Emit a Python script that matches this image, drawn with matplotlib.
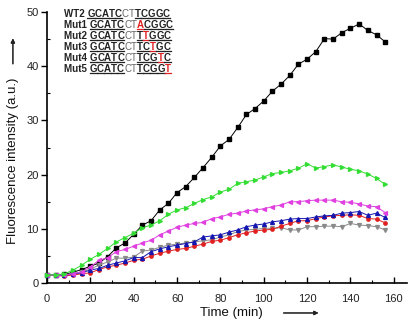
import matplotlib.pyplot as plt
from matplotlib.lines import Line2D
from matplotlib.transforms import IdentityTransform
from matplotlib.ticker import MultipleLocator

plt.rcParams['font.family'] = ['Liberation Sans', 'DejaVu Sans']

time = list(range(0, 160, 4))

wt2 = [1.5, 1.5, 1.6, 2.0, 2.5, 3.1, 3.7, 4.9, 6.5, 7.4, 9.0, 10.7, 11.5, 13.5,
       14.7, 16.7, 17.8, 19.5, 21.3, 23.2, 25.3, 26.5, 28.7, 31.1, 32.2, 33.6,
       35.4, 36.7, 38.3, 40.4, 41.3, 42.7, 45.1, 45.0, 46.2, 47.0, 47.8, 46.6,
       45.8, 44.5]
mut1 = [1.4, 1.4, 1.3, 1.5, 1.7, 1.9, 2.5, 3.0, 3.3, 3.7, 4.2, 4.4, 5.0, 5.5,
        5.9, 6.2, 6.4, 6.8, 7.2, 7.7, 7.9, 8.4, 8.9, 9.3, 9.6, 9.8, 9.9, 10.5,
        11.0, 11.5, 11.5, 11.9, 12.2, 12.4, 12.5, 12.6, 12.5, 11.9, 11.8, 11.1]
mut2 = [1.5, 1.4, 1.4, 1.7, 1.9, 2.4, 2.7, 3.3, 3.7, 4.1, 4.7, 4.7, 5.8, 6.3,
        6.7, 7.0, 7.3, 7.6, 8.5, 8.7, 8.9, 9.4, 9.8, 10.4, 10.7, 10.9, 11.3,
        11.5, 11.8, 11.9, 11.9, 12.2, 12.4, 12.5, 12.9, 13.0, 13.2, 12.5, 12.9,
        12.1]
mut3 = [1.5, 1.5, 1.7, 2.4, 3.3, 4.4, 5.3, 6.4, 7.6, 8.4, 9.2, 10.2, 10.7,
        11.5, 12.7, 13.5, 13.9, 14.7, 15.4, 15.9, 16.8, 17.3, 18.4, 18.7, 19.0,
        19.6, 20.2, 20.4, 20.7, 21.2, 22.0, 21.2, 21.5, 21.8, 21.4, 21.0, 20.7,
        20.1, 19.3, 18.2]
mut4 = [1.5, 1.4, 1.5, 1.7, 2.1, 3.0, 4.2, 4.7, 5.8, 6.2, 6.8, 7.4, 7.9, 8.9,
        9.6, 10.3, 10.7, 11.0, 11.2, 11.9, 12.2, 12.7, 12.9, 13.3, 13.5, 13.7,
        14.1, 14.4, 15.0, 15.0, 15.2, 15.3, 15.3, 15.3, 15.0, 14.9, 14.6, 14.2,
        14.1, 13.0]
mut5 = [1.5, 1.5, 1.5, 1.7, 2.0, 2.6, 3.3, 3.9, 4.6, 4.6, 4.8, 5.9, 6.1, 6.6,
        7.0, 7.2, 7.4, 7.6, 7.8, 8.0, 8.5, 8.9, 9.5, 9.8, 9.9, 10.1, 10.1, 10.2,
        9.8, 9.8, 10.4, 10.4, 10.5, 10.5, 10.4, 11.0, 10.7, 10.6, 10.4, 9.8]

# name, sequence, index of the mutated base (None for wild type)
seq_names = ['WT2', 'Mut1', 'Mut2', 'Mut3', 'Mut4', 'Mut5']
seq_text = ['GCATCCTTCGGC', 'GCATCCTACGGC', 'GCATCCTTTGGC',
            'GCATCCTTCTGC', 'GCATCCTTCGTC', 'GCATCCTTCGGT']
seq_mut = [None, 7, 8, 9, 10, 11]

fig = plt.figure(figsize=(4.16, 3.25), dpi=100)
ax = fig.add_axes([0.113, 0.129, 0.865, 0.834])

series = [
    (wt2, 'black', 's', 2.4),
    (mut5, '#8a8a8a', 'v', 2.8),
    (mut1, '#e02020', 'o', 2.4),
    (mut2, '#1515b0', '^', 2.8),
    (mut4, '#e040e0', '<', 2.8),
    (mut3, '#33dd33', '>', 2.8),
]
for vals, col, mk, ms in series:
    ax.plot(time, vals, color=col, marker=mk, markersize=ms, lw=0.7,
            clip_on=False, zorder=3)

ax.set_xlim(0, 166)
ax.set_ylim(0, 50)
ax.xaxis.set_minor_locator(MultipleLocator(10))
ax.yaxis.set_major_locator(MultipleLocator(10))
ax.yaxis.set_minor_locator(MultipleLocator(5))
ax.set_xticks(range(0, 161, 20))
ax.spines['top'].set_visible(False)
ax.spines['right'].set_visible(False)
for s in ('left', 'bottom'):
    ax.spines[s].set_linewidth(1.2)
ax.tick_params(axis='x', which='major', direction='in', length=4, width=1,
               labelsize=8, labelcolor='#222222', pad=8)
ax.tick_params(axis='x', which='minor', direction='in', length=2.5, width=0.8)
ax.tick_params(axis='y', which='major', direction='out', length=4, width=1,
               labelsize=8, labelcolor='#222222', pad=2)
ax.tick_params(axis='y', which='minor', direction='in', length=2.5, width=0.8)

fig.text(0.555, 0.038, 'Time (min)', ha='center', va='center', fontsize=9.5,
         color='#111111')
fig.text(0.031, 0.505, 'Fluorescence intensity (a.u.)', rotation=90,
         ha='center', va='center', fontsize=9.5, color='#111111')
arrow = dict(arrowstyle='-|>', lw=0.8, color='#222222', mutation_scale=6)
fig.add_artist(plt.annotate('', xy=(0.772, 0.037), xytext=(0.675, 0.037),
                            xycoords='figure fraction', arrowprops=arrow))
fig.add_artist(plt.annotate('', xy=(0.031, 0.89), xytext=(0.031, 0.795),
                            xycoords='figure fraction', arrowprops=arrow))

# sequence block, one character at a time so bases can be coloured
rows = []
for i, (name, seq, mut) in enumerate(zip(seq_names, seq_text, seq_mut)):
    y = 0.975 - i * 0.0405
    prev = ax.text(0.047, y, name + ' ', transform=ax.transAxes, fontsize=7,
                   fontweight='bold', color='#222222', va='bottom', ha='left')
    chars = []
    for j, ch in enumerate(seq):
        middle = j in (5, 6)
        col = '#e02020' if j == mut else ('#666666' if middle else '#222222')
        t = ax.annotate(ch, xy=(1, 0), xycoords=prev, fontsize=7,
                        fontweight='normal' if middle else 'bold',
                        color=col, va='bottom', ha='left')
        if not middle:
            chars.append((t, col))
        prev = t
    rows.append(chars)

fig.canvas.draw()
renderer = fig.canvas.get_renderer()
for chars in rows:
    for t, col in chars:
        bb = t.get_window_extent(renderer)
        yy = bb.y0 + 0.9
        fig.add_artist(Line2D([bb.x0, bb.x1], [yy, yy], lw=0.9, color=col,
                              transform=IdentityTransform()))

fig.savefig('out.png', dpi=100)
